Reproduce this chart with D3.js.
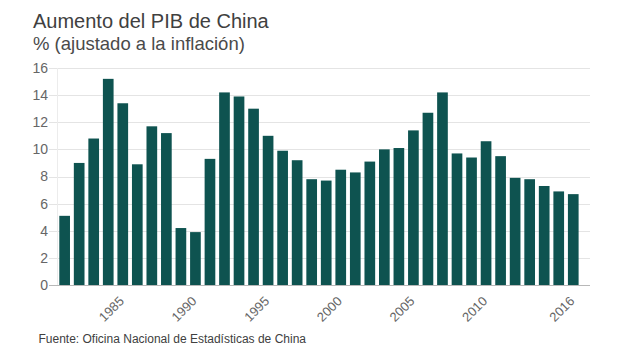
<!DOCTYPE html>
<html><head><meta charset="utf-8">
<script src="https://cdn.jsdelivr.net/npm/d3@7"></script>
<style>
html,body{margin:0;padding:0;background:#fff;}
svg{display:block;font-family:"Liberation Sans",Arial,sans-serif;}
</style></head>
<body>
<script>
const years = [1981,1982,1983,1984,1985,1986,1987,1988,1989,1990,1991,1992,1993,1994,1995,1996,1997,1998,1999,2000,2001,2002,2003,2004,2005,2006,2007,2008,2009,2010,2011,2012,2013,2014,2015,2016];
const growth = [5.1,9.0,10.8,15.2,13.4,8.9,11.7,11.2,4.2,3.9,9.3,14.2,13.9,13.0,11.0,9.9,9.2,7.8,7.7,8.5,8.3,9.1,10.0,10.1,11.4,12.7,14.2,9.7,9.4,10.6,9.5,7.9,7.8,7.3,6.9,6.7];
const yTicks = [0,2,4,6,8,10,12,14,16];
const xTickYears = [1985,1990,1995,2000,2005,2010,2016];
const title = "Aumento del PIB de China";
const subtitle = "% (ajustado a la inflación)";
const source = "Fuente: Oficina Nacional de Estadísticas de China";

const W = 624, H = 351;
const svg = d3.select("body").append("svg").attr("width", W).attr("height", H);

const x = d3.scaleBand().domain(years).range([59.3, 578.6]).paddingInner(0.265).paddingOuter(0);
const y = d3.scaleLinear().domain([0,16]).range([285, 68]);

// gridlines
svg.append("g").selectAll("line").data(yTicks.filter(d=>d>0)).join("line")
  .attr("x1", 49).attr("x2", 590)
  .attr("y1", d=>Math.round(y(d))+0.5).attr("y2", d=>Math.round(y(d))+0.5)
  .attr("stroke", "#e4e4e4").attr("stroke-width", 1);
// faint y axis line
svg.append("line").attr("x1",57.5).attr("x2",57.5).attr("y1",y(16)).attr("y2",y(0))
  .attr("stroke","#ececec").attr("stroke-width",1);

// y axis labels
const yAxis = d3.axisLeft(y).tickValues(yTicks).tickSize(0).tickPadding(0);
const gy = svg.append("g").attr("transform","translate(48,0)").call(yAxis);
gy.select(".domain").remove();
gy.selectAll("text").attr("font-size",14).attr("fill","#666").style("font-family","'Liberation Sans', Arial, sans-serif");

// bars
svg.append("g").selectAll("rect").data(years).join("rect")
  .attr("x", (d)=>x(d)).attr("width", x.bandwidth())
  .attr("y", (d,i)=>y(growth[i])).attr("height", (d,i)=>y(0)-y(growth[i]))
  .attr("fill", "#0e5350");

// baseline
svg.append("line").attr("x1",49).attr("x2",590).attr("y1",y(0)+0.5).attr("y2",y(0)+0.5)
  .attr("stroke","#b8b8b8").attr("stroke-width",1);

// x tick labels, rotated -45deg with CSS transform
svg.append("g").selectAll("text").data(xTickYears).join("text")
  .attr("x",0).attr("y",0)
  .style("transform", d=>`translate(${x(d)+x.bandwidth()/2+2}px,${y(0)+17}px) rotate(-45deg)`)
  .style("transform-origin","0 0")
  .attr("text-anchor","end")
  .attr("font-size",13).attr("fill","#666")
  .text(d=>d);

// titles
svg.append("text").attr("x",33).attr("y",28).attr("font-size",20).attr("fill","#404040").text(title);
svg.append("text").attr("x",33).attr("y",50).attr("font-size",18.5).attr("fill","#4a4a4a").text(subtitle);
svg.append("text").attr("x",38.5).attr("y",343).attr("font-size",12).attr("fill","#404040").text(source);
</script>
</body></html>
